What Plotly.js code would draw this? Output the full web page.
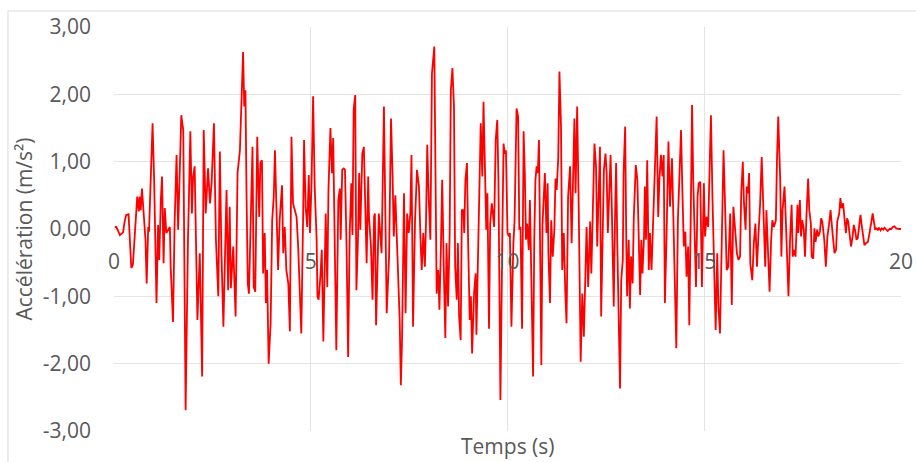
<!DOCTYPE html>
<html>
<head>
<meta charset="utf-8">
<script src="https://cdn.plot.ly/plotly-3.0.1.min.js"></script>
<style>
  html, body { margin: 0; padding: 0; background: #ffffff; }
  #chart { width: 916px; height: 462px; }
</style>
</head>
<body>
<div id="chart"></div>
<script>
// Time (s) and acceleration (m/s²), in segments
const time0 = [0.02,0.06,0.15,0.23,0.27,0.31,0.37,0.44,0.48,0.59,0.63,0.65,0.68,0.71,0.76,0.80,0.83,0.87,0.89,0.98,1.02,1.08,1.12,1.15,1.19,1.22,1.26,1.29,1.33,1.37,1.42,1.44,1.50,1.54,1.59,1.63,1.67,1.71,1.76,1.78,1.82,1.88,1.94,1.98,2.01,2.05,2.08,2.12,2.18,2.24,2.28,2.33,2.39,2.44,2.48,2.54,2.59,2.65,2.69,2.73,2.78,2.81,2.86,2.90,2.94,2.97,3.03,3.09,3.14];
const accel0 = [0.03,0.03,-0.09,-0.05,0.11,0.21,0.22,-0.58,-0.53,0.48,0.26,0.48,0.28,0.60,0.18,-0.16,-0.81,0.03,-0.04,1.57,0.73,-1.10,0.06,-0.46,0.43,0.78,-0.51,0.31,-0.06,-0.01,0.03,-0.56,-1.38,0.08,1.10,-0.01,0.73,1.69,1.47,-0.16,-2.69,-0.16,1.45,0.23,0.78,0.93,-0.41,-1.35,-0.36,-2.19,1.47,0.23,0.90,0.38,0.68,1.57,-0.16,-1.00,1.15,-0.36,-1.45,-0.66,0.58,-0.91,0.33,-0.88,-0.26,-1.30,0.83];

const time1 = [3.20,3.24,3.28,3.31,3.34,3.37,3.40,3.43,3.48,3.52,3.55,3.59,3.64,3.69,3.72,3.76,3.79,3.83,3.86,3.89,3.93,3.98,4.02,4.06,4.09,4.13,4.17,4.21,4.27,4.30,4.34,4.38,4.43,4.47,4.51,4.55,4.59,4.64,4.68,4.72,4.76,4.81,4.83,4.87,4.91,4.95,4.98,5.02,5.06,5.10,5.15,5.17,5.20,5.25,5.28,5.32,5.36,5.38,5.42,5.45,5.50,5.54,5.57,5.61,5.65,5.70,5.74,5.76,5.80,5.84,5.87,5.91,5.95,5.99,6.03,6.06,6.09,6.13,6.16,6.20,6.23,6.26,6.31,6.35,6.38,6.42,6.46,6.48,6.53,6.57,6.61];
const accel1 = [1.17,1.87,2.63,1.82,2.06,0.43,-0.81,-0.96,0.38,1.22,-0.86,-0.93,1.37,0.18,0.98,1.02,-0.66,-0.06,-1.10,-0.61,-2.00,-1.40,0.13,0.48,1.17,0.28,-0.61,0.13,0.65,-0.36,0.03,-0.61,-0.81,-1.52,1.37,0.38,0.28,0.18,-0.26,-0.86,-1.55,0.33,1.32,0.33,0.03,0.80,-0.06,0.68,1.97,0.63,-0.16,-1.00,-1.05,-0.66,-0.31,-1.67,-0.26,0.23,-0.86,0.58,1.50,0.83,1.35,-0.26,-1.80,0.43,0.60,-0.16,0.88,0.90,0.88,-0.26,-1.90,-0.06,0.68,-0.09,1.77,1.99,-0.91,-0.16,0.83,-0.01,1.12,1.22,0.48,-0.51,0.78,0.18,-0.26,-1.05,0.18];

const time2 = [6.63,6.66,6.70,6.73,6.77,6.80,6.86,6.90,6.93,6.99,7.01,7.04,7.08,7.11,7.15,7.19,7.22,7.26,7.29,7.32,7.37,7.41,7.45,7.49,7.53,7.56,7.60,7.65,7.70,7.75,7.79,7.82,7.86,7.90,7.93,7.96,8.00,8.04,8.08,8.14,8.17,8.20,8.24,8.27,8.31,8.34,8.38,8.42,8.45,8.49,8.53,8.56,8.60,8.64,8.67,8.71,8.74,8.77,8.81,8.84,8.88,8.90,8.93,8.97,9.00,9.04,9.07,9.10,9.15,9.19,9.21,9.26,9.29,9.32,9.36,9.39,9.43,9.46,9.49,9.53,9.56,9.60,9.63,9.66,9.70,9.74,9.77,9.82,9.87,9.90,9.93,9.96,10.00,10.04];
const accel2 = [0.23,-1.43,-0.56,0.23,-0.11,-0.36,1.82,0.43,-1.25,-0.41,0.43,1.64,0.78,-0.11,0.50,-0.16,-0.66,-1.35,-2.32,-1.65,0.53,-1.25,0.23,-0.06,0.23,1.10,-1.45,0.13,0.88,0.63,-0.16,-0.61,-0.06,-0.56,0.13,1.25,0.43,-0.16,2.31,2.71,0.83,-0.96,-0.61,-1.20,-0.21,0.73,-0.56,-1.62,-0.21,-1.15,-0.06,2.06,2.39,1.82,-0.56,-1.05,-0.21,-1.30,-1.65,0.28,0.28,-0.06,0.73,0.98,-0.21,-1.35,-1.00,-1.85,-0.96,-0.66,-1.57,-0.16,1.12,1.57,0.78,1.89,0.83,-0.01,0.53,-1.48,0.08,0.38,0.23,0.03,1.32,1.62,0.73,-2.54,-0.06,1.27,1.12,1.17,-0.06,-0.11];

const time3 = [10.06,10.10,10.15,10.18,10.23,10.27,10.30,10.33,10.37,10.41,10.44,10.47,10.50,10.54,10.57,10.60,10.65,10.68,10.71,10.74,10.77,10.80,10.82,10.86,10.89,10.93,10.95,10.99,11.02,11.04,11.08,11.11,11.15,11.19,11.22,11.25,11.29,11.32,11.36,11.39,11.43,11.47,11.50,11.54,11.59,11.63,11.67,11.70,11.73,11.77,11.81,11.84,11.86,11.90,11.94,11.98,12.01,12.05,12.10,12.13,12.16,12.18,12.21,12.25,12.28,12.32,12.35,12.38,12.43,12.45,12.49,12.52,12.55,12.59,12.62,12.65,12.70,12.73,12.76,12.79,12.82,12.86,12.89,12.93,12.95,12.99,13.02,13.04,13.08,13.11,13.14,13.18,13.21,13.26,13.30,13.33,13.37,13.40,13.43,13.47];
const accel3 = [-0.06,-1.45,-0.21,0.13,1.79,1.67,-0.01,0.03,-1.48,1.45,0.83,-0.16,0.08,-0.31,0.43,-0.66,-2.19,-0.16,0.73,0.93,0.83,1.32,-0.16,-2.02,0.08,0.63,0.83,-0.06,0.68,-0.36,-1.10,0.13,-0.41,-0.01,0.75,0.58,1.07,2.34,1.52,-0.61,-0.06,-0.96,-1.40,0.48,0.93,-0.21,0.83,1.64,0.53,1.82,0.33,-0.71,-1.97,-0.96,-1.60,-0.66,0.03,-0.86,0.11,-0.66,0.08,0.80,1.27,0.93,-0.26,0.58,1.22,-1.30,0.33,0.88,1.12,0.83,-0.06,0.73,1.10,0.33,-1.15,0.08,0.98,-0.21,-1.05,-2.37,-0.76,-0.46,0.83,1.52,-0.26,-1.00,-0.16,-1.18,-0.41,-0.81,0.18,0.95,0.73,-0.26,-0.98,-0.16,-0.66,-0.11];

const time4 = [13.49,13.52,13.55,13.59,13.62,13.66,13.71,13.75,13.79,13.83,13.86,13.90,13.94,13.97,14.00,14.04,14.06,14.09,14.13,14.18,14.22,14.26,14.29,14.33,14.37,14.41,14.44,14.48,14.52,14.55,14.59,14.62,14.66,14.69,14.72,14.76,14.79,14.83,14.86,14.90,14.94,14.99,15.02,15.06,15.10,15.15,15.17,15.21,15.25,15.29,15.33,15.36,15.40,15.44,15.49,15.53,15.57,15.61,15.66,15.70,15.74,15.78,15.83,15.87,15.91,15.94,15.98,16.01,16.05,16.08,16.11,16.14,16.17,16.22,16.26,16.30,16.34,16.38,16.42,16.46,16.50,16.55,16.58,16.63,16.66,16.70,16.73,16.77,16.82,16.85,16.88,16.93,16.96,16.99,17.04];
const accel4 = [0.63,-0.16,1.02,-0.61,-0.06,-0.61,0.28,0.73,1.67,0.18,0.73,1.10,0.78,1.10,-1.10,-0.16,0.58,1.30,0.33,1.05,0.03,-0.86,-1.77,0.13,0.93,1.47,0.68,-0.26,-0.04,-0.71,-0.26,-1.43,0.33,1.84,0.73,-0.26,-0.86,0.48,0.68,0.70,-0.86,0.68,-0.11,0.18,0.03,1.22,1.69,0.43,-0.66,-1.50,-0.36,-1.15,-1.55,-0.16,1.17,0.33,-0.61,-0.56,0.23,-1.13,0.33,0.03,-0.36,-0.46,-0.41,0.53,1.00,0.38,-0.01,0.63,0.53,0.83,-0.51,-0.76,-0.21,0.08,-0.56,-0.06,0.38,1.07,0.23,-0.56,0.28,-0.36,-0.93,-0.16,0.13,0.03,0.13,1.07,1.67,0.73,-0.41,0.28,0.63];

const time5 = [17.07,17.10,17.14,17.18,17.22,17.25,17.28,17.32,17.37,17.39,17.43,17.46,17.49,17.53,17.56,17.60,17.64,17.67,17.71,17.73,17.77,17.80,17.83,17.87,17.90,17.94,17.97,18.00,18.05,18.09,18.13,18.17,18.21,18.26,18.31,18.35,18.38,18.43,18.46,18.49,18.53,18.56,18.60,18.63,18.66,18.70,18.73,18.77,18.80,18.83,18.87,18.90,18.94,18.97,19.00,19.04,19.07,19.11,19.16,19.20,19.24,19.28,19.32,19.34,19.38,19.41,19.44,19.48,19.51,19.55,19.58,19.62,19.66,19.71,19.75,19.79,19.83,19.88,19.92,19.96,20.00];
const accel5 = [0.18,-0.46,-1.00,-0.16,0.36,-0.41,-0.31,-0.41,0.36,-0.06,0.43,-0.11,0.13,-0.01,-0.41,0.23,0.75,0.28,0.08,-0.41,-0.44,0.01,-0.19,-0.01,-0.11,-0.04,0.16,0.11,-0.16,-0.56,-0.11,0.06,0.28,-0.06,-0.36,-0.31,0.11,0.23,0.46,0.31,0.38,0.18,-0.06,0.16,0.11,-0.11,-0.26,-0.11,0.06,-0.01,-0.16,-0.14,0.08,0.21,0.06,-0.16,-0.24,-0.21,-0.19,-0.06,0.13,0.23,0.08,0.00,0.01,-0.02,0.02,-0.02,0.01,-0.01,0.02,0.00,-0.03,0.00,0.00,0.03,0.04,0.01,0.00,0.00,0.00];

const xTickVals = [0, 5, 10, 15, 20];
const xTickText = ['0', '5', '10', '15', '20'];
const yTickVals = [-3, -2, -1, 0, 1, 2, 3];
const yTickText = ['-3,00', '-2,00', '-1,00', '0,00', '1,00', '2,00', '3,00'];

const time = [].concat(time0, time1, time2, time3, time4, time5);
const accel = [].concat(accel0, accel1, accel2, accel3, accel4, accel5);

const textColor = '#595959';
const gridColor = '#e4e4e4';

const trace = {
  x: time,
  y: accel,
  type: 'scatter',
  mode: 'lines',
  line: { color: '#ff0000', width: 1.8 },
  hoverinfo: 'skip'
};

const layout = {
  width: 916,
  height: 462,
  margin: { l: 114, r: 15, t: 27, b: 31, pad: 0 },
  paper_bgcolor: '#ffffff',
  plot_bgcolor: '#ffffff',
  showlegend: false,
  font: { family: '"Open Sans", sans-serif', size: 21, color: textColor },
  xaxis: {
    range: [0, 20],
    tickmode: 'array',
    tickvals: xTickVals,
    ticktext: xTickText,
    showgrid: true,
    gridcolor: gridColor,
    gridwidth: 1,
    zeroline: false,
    showline: false,
    ticks: '',
    anchor: 'free',
    position: 0.5,
    ticklabelstandoff: 18,
    tickfont: { size: 21, color: textColor }
  },
  yaxis: {
    range: [-3, 3],
    tickmode: 'array',
    tickvals: yTickVals,
    ticktext: yTickText,
    showgrid: true,
    gridcolor: gridColor,
    gridwidth: 1,
    zeroline: false,
    showline: false,
    ticks: '',
    ticklabelstandoff: 22,
    tickfont: { size: 21, color: textColor },
    title: { text: 'Accélération (m/s²)', font: { size: 21, color: textColor }, standoff: 4 }
  },
  annotations: [{
    text: 'Temps (s)',
    xref: 'paper', yref: 'paper',
    x: 0.5, y: 0,
    xanchor: 'center', yanchor: 'middle',
    yshift: -15,
    showarrow: false,
    font: { size: 21, color: textColor }
  }],
  shapes: [
    { type: 'line', xref: 'paper', yref: 'paper', x0: -0.1347, x1: 1.02, y0: 1.0396, y1: 1.0396, line: { color: '#dcdcdc', width: 1 } },
    { type: 'line', xref: 'paper', yref: 'paper', x0: -0.1347, x1: -0.1347, y0: 1.0396, y1: -0.08, line: { color: '#dcdcdc', width: 1 } }
  ]
};

Plotly.newPlot('chart', [trace], layout, { displayModeBar: false, staticPlot: true });
</script>
</body>
</html>
